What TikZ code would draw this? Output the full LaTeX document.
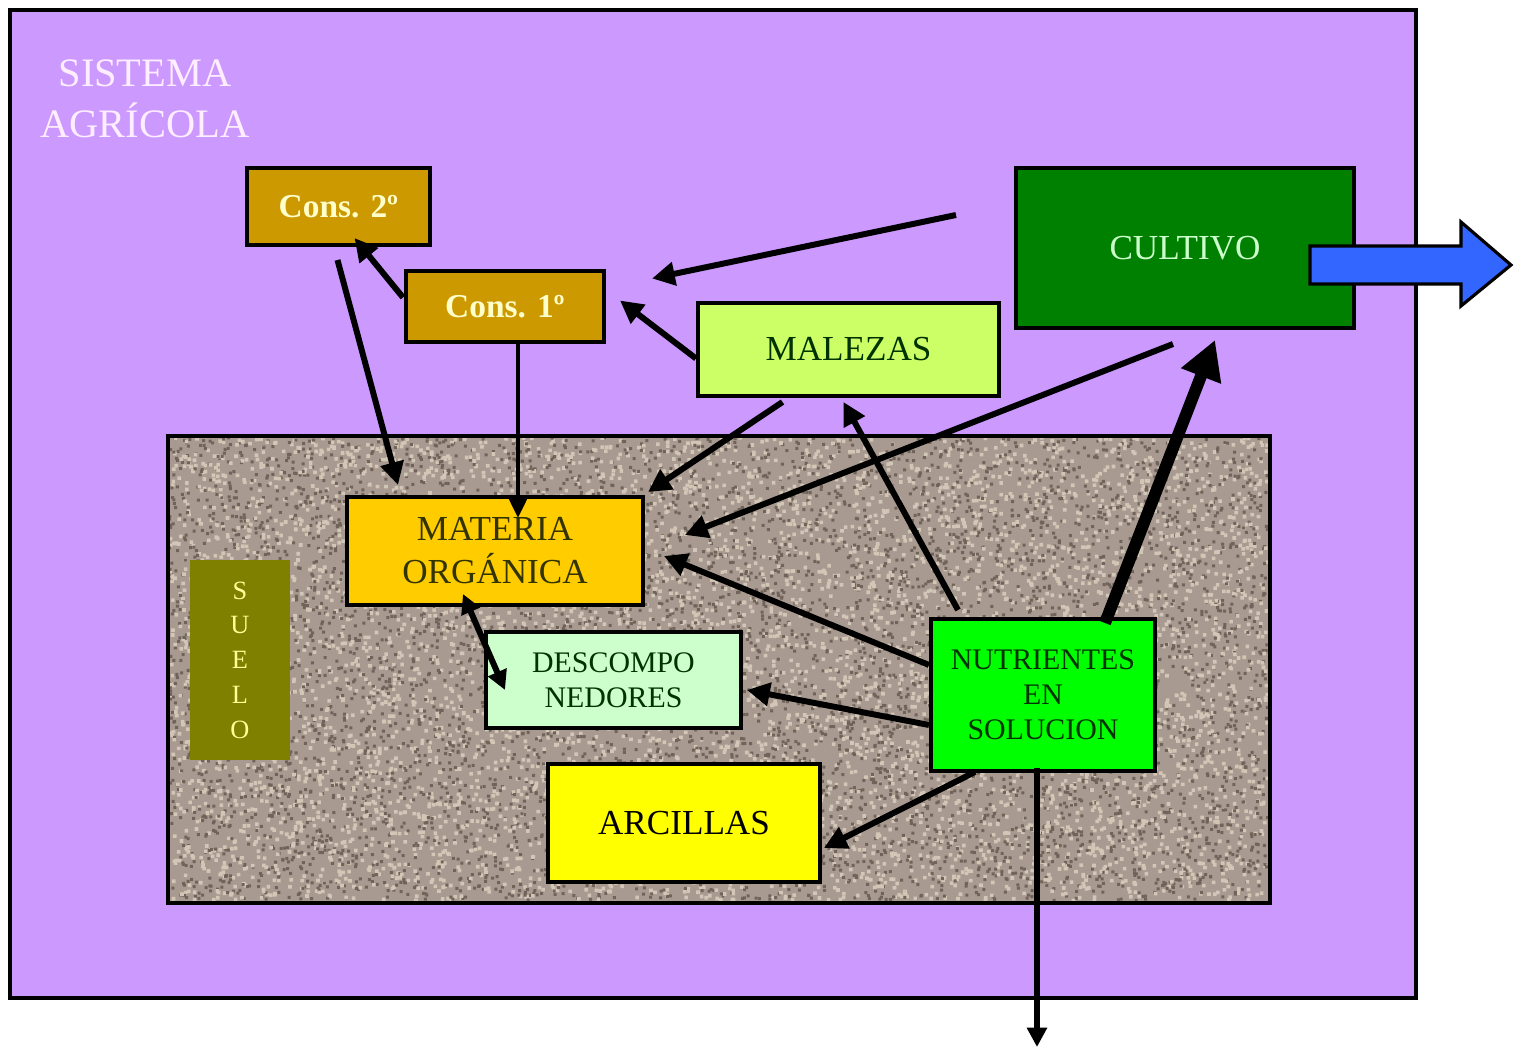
\documentclass[tikz,border=0pt]{standalone}
\usepackage{fontspec}
\setmainfont{Liberation Serif}
\usetikzlibrary{arrows.meta,calc}

\definecolor{lila}{HTML}{CC99FF}
\definecolor{cons}{HTML}{CC9900}
\definecolor{constxt}{HTML}{FFFFCC}
\definecolor{cultivo}{HTML}{008000}
\definecolor{cultivotxt}{HTML}{CCFFCC}
\definecolor{azul}{HTML}{3366FF}
\definecolor{maleza}{HTML}{CCFF66}
\definecolor{verdeosc}{HTML}{003300}
\definecolor{materia}{HTML}{FFCC00}
\definecolor{materiatxt}{HTML}{333300}
\definecolor{oliva}{HTML}{808000}
\definecolor{suelotxt}{HTML}{FFFF99}
\definecolor{descomp}{HTML}{CCFFCC}
\definecolor{nutri}{HTML}{00FF00}
\definecolor{arcilla}{HTML}{FFFF00}
\definecolor{soilbase}{HTML}{A89A90}
\definecolor{soilL}{HTML}{D2C6B6}
\definecolor{soilD}{HTML}{70645A}
\definecolor{titulo}{HTML}{FFEEFF}

\tikzset{
  caja/.style={draw=black, line width=2.3pt, align=center, inner sep=0pt},
  grande/.style={font=\fontsize{20}{24.4}\selectfont},
  media/.style={font=\fontsize{17}{20}\selectfont},
  flecha/.style={line width=3.4pt, -{Triangle[length=13pt,width=13pt]}},
  flechadoble/.style={line width=3.4pt, {Triangle[length=11pt,width=11pt]}-{Triangle[length=11pt,width=11pt]}},
  flechagruesa/.style={line width=6.8pt, -{Triangle[length=22pt,width=23pt]}},
}

\begin{document}
\begin{tikzpicture}[x=0.02cm, y=-0.02cm]
  \useasboundingbox (0,0) rectangle (1516,1050);
  \fill[white] (0,0) rectangle (1516,1050);

  % agricultural system frame
  \draw[fill=lila, line width=2.3pt] (10,10) rectangle (1416,998);
  \node[text=titulo, align=center, font=\fontsize{23}{29}\selectfont] (titulo) at (145,99) {SISTEMA\\AGRÍCOLA};

  % soil block with grainy texture (random grains, drawn in batches)
  \fill[soilbase] (168,436) rectangle (1270,903);
  \pgfmathsetseed{42}
  \foreach \k in {1,...,32}{
    \fill[soilL] foreach \i in {1,...,200}{ ({168+1098*rnd},{436+463*rnd}) rectangle ++(3.6,3.6) };
    \fill[soilD] foreach \i in {1,...,200}{ ({168+1098*rnd},{436+463*rnd}) rectangle ++(3,3) };
  }
  \draw[line width=2.3pt] (168,436) rectangle (1270,903);

  % boxes
  \node[caja, fill=cons, text=constxt, minimum width=3.66cm, minimum height=1.54cm,
        font=\fontsize{19}{22}\selectfont\bfseries] (cons2) at (338.5,206.5) {Cons. 2º};
  \node[caja, fill=cons, text=constxt, minimum width=3.96cm, minimum height=1.42cm,
        font=\fontsize{19}{22}\selectfont\bfseries] (cons1) at (505,306.5) {Cons. 1º};
  \node[caja, grande, fill=cultivo, text=cultivotxt, minimum width=6.76cm, minimum height=3.2cm] (cultivo) at (1185,248) {CULTIVO};
  \node[caja, grande, fill=maleza, text=verdeosc, minimum width=6.02cm, minimum height=1.86cm] (malezas) at (848.5,349.5) {MALEZAS};
  \node[caja, grande, fill=materia, text=materiatxt, minimum width=5.92cm, minimum height=2.16cm] (materia) at (495,551) {MATERIA\\ORGÁNICA};
  \node[fill=oliva, text=suelotxt, align=center, inner sep=0pt, minimum width=2cm, minimum height=4cm,
        font=\fontsize{15}{19.8}\selectfont] (suelo) at (240,660) {S\\U\\E\\L\\O};
  \node[caja, media, fill=descomp, text=verdeosc, minimum width=5.1cm, minimum height=1.92cm] (descomp) at (613.5,680) {DESCOMPO\\NEDORES};
  \node[caja, media, fill=nutri, text=verdeosc, minimum width=4.48cm, minimum height=3.04cm] (nutri) at (1043,695) {NUTRIENTES\\EN\\SOLUCION};
  \node[caja, grande, fill=arcilla, text=black, minimum width=5.44cm, minimum height=2.36cm] (arcillas) at (684,823) {ARCILLAS};

  % harvest exported from the system
  \draw[fill=azul, line width=1.8pt, line join=miter]
    (1310,246) -- (1461,246) -- (1461,222) -- (1511,265) -- (1461,306) -- (1461,284) -- (1310,284) -- cycle;

  % free end of the leaching flow
  \coordinate (lixiviado) at (1037,1047);

  % flows
  \draw[flecha] ($(cultivo.west)+(-58,-33)$) -- ($(cons1.east)+(46,-28)$);
  \draw[flecha] ($(malezas.west)+(0,9)$) -- ($(cons1.east)+(14,-6)$);
  \draw[flecha] ($(cons1.west)+(-1,-9)$) -- ($(cons2.south)+(16,-9)$);
  \draw[flecha] ($(cons2.south)+(-1,13)$) -- ($(materia.north)+(-97,-10)$);
  \draw[line width=2.3pt, -{Triangle[length=12pt,width=11pt]}] ($(cons1.south)+(13,0)$) -- ($(materia.north)+(23,23)$);
  \draw[flecha] ($(malezas.south)+(-66,4)$) -- ($(materia.north east)+(3,-3)$);
  \draw[flecha] ($(cultivo.south)+(-12,14)$) -- ($(materia.east)+(40,-16)$);
  \draw[flecha] ($(nutri.north)+(-85,-7)$) -- ($(malezas.south)+(-5,4)$);
  \draw[flechagruesa] ($(nutri.north)+(62,6)$) -- ($(cultivo.south)+(30,10)$);
  \draw[flecha] ($(nutri.west)+(0,-30)$) -- ($(materia.east)+(19,5)$);
  \draw[flecha] ($(nutri.west)+(0,30)$) -- ($(descomp.east)+(4,10)$);
  \draw[flechadoble] ($(materia.south)+(-32,-13)$) -- ($(descomp.west)+(21,10)$);
  \draw[flecha] ($(nutri.south)+(-68,-1)$) -- ($(arcillas.east)+(2,25)$);
  \draw[line width=3pt, -{Triangle[length=11pt,width=11pt]}] ($(nutri.south)+(-6,-5)$) -- (lixiviado);
\end{tikzpicture}
\end{document}
